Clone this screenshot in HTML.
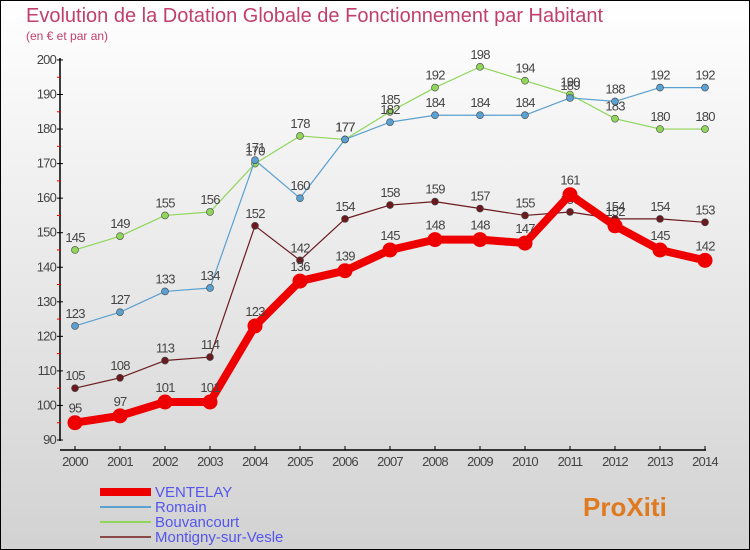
<!DOCTYPE html>
<html><head><meta charset="utf-8"><style>
body{margin:0;width:750px;height:550px;overflow:hidden}
svg{display:block;font-family:"Liberation Sans","DejaVu Sans",sans-serif}
</style></head><body>
<svg id="c" width="750" height="550">
<defs><linearGradient id="bg" x1="0" y1="0" x2="0" y2="1"><stop offset="0" stop-color="#ffffff"/><stop offset="1" stop-color="#d2d2d2"/></linearGradient></defs>
<rect x="0.5" y="0.5" width="749" height="549" fill="url(#bg)" stroke="#000"/>
<text x="26" y="22" font-size="20" fill="#c0406a">Evolution de la Dotation Globale de Fonctionnement par Habitant</text>
<text x="26" y="40" font-size="12" fill="#c0406a">(en € et par an)</text>
<g id="axes"></g><g id="series"></g><g id="legend"></g>
</svg>
<script>
const years=[2000,2001,2002,2003,2004,2005,2006,2007,2008,2009,2010,2011,2012,2013,2014];
const yTicks=[90,100,110,120,130,140,150,160,170,180,190,200];
const ventelay=[95,97,101,101,123,136,139,145,148,148,147,161,152,145,142];
const romain=[123,127,133,134,171,160,177,182,184,184,184,189,188,192,192];
const bouvancourt=[145,149,155,156,170,178,177,185,192,198,194,190,183,180,180];
const montigny=[105,108,113,114,152,142,154,158,159,157,155,156,154,154,153];
const NS="http://www.w3.org/2000/svg";
function X(i){return 75+i*45;}
function Y(v){return 440-(v-90)*3.455;}
function mk(tag,attrs,parent,txt){const e=document.createElementNS(NS,tag);for(const k in attrs)e.setAttribute(k,attrs[k]);if(txt!==undefined)e.textContent=txt;parent.appendChild(e);return e;}
const ax=document.getElementById('axes');
let e=mk('line',{x1:60,y1:58,x2:60,y2:441,stroke:'#000','stroke-width':1.5},ax);

e=mk('line',{x1:60,y1:450,x2:706,y2:450,stroke:'#000','stroke-width':1.5},ax);

yTicks.forEach((t,i)=>{
 mk('line',{x1:57,y1:Y(t),x2:63,y2:Y(t),stroke:'#000'},ax);
 if(i<yTicks.length-1)mk('line',{x1:57,y1:Y(t+5),x2:61,y2:Y(t+5),stroke:'#e00'},ax);
 const l=mk('text',{x:56,y:Y(t)+4,'font-size':13,fill:'#444','text-anchor':'end','letter-spacing':'-0.8'},ax,t);
 
});
years.forEach((y,i)=>{
 mk('line',{x1:X(i),y1:446,x2:X(i),y2:450,stroke:'#000'},ax);
 const l=mk('text',{x:X(i),y:466,'font-size':13,fill:'#444','text-anchor':'middle','letter-spacing':'-0.8'},ax,y);
 
});
const sg=document.getElementById('series');
const series=[
 {name:'montigny-sur-vesle',data:montigny,color:'#6b1a1f',w:1.2,r:3.5},
 {name:'bouvancourt',data:bouvancourt,color:'#8fd65a',w:1.2,r:3.5},
 {name:'romain',data:romain,color:'#5aa0d0',w:1.2,r:3.5},
 {name:'ventelay',data:ventelay,color:'#ee0000',w:8,r:7.5}];
series.forEach(s=>{
 const g=mk('g',{},sg);
 
 const pts=s.data.map((v,i)=>X(i)+','+Y(v)).join(' ');
 const ln=mk('polyline',{points:pts,fill:'none',stroke:s.color,'stroke-width':s.w,'stroke-linejoin':'round'},g);
 
 s.data.forEach((v,i)=>{
  const c=mk('circle',{cx:X(i),cy:Y(v),r:s.r,fill:s.color,stroke:s.w>2?'none':'#444','stroke-width':0.6},g);
  
  const t=mk('text',{x:X(i),y:Y(v)-(s.w>2?10:8),'font-size':13,fill:'#444','text-anchor':'middle','letter-spacing':'-0.8'},g,v);
  
 });
});
const lg=document.getElementById('legend');
const leg=[['VENTELAY','#ee0000',8],['Romain','#5aa0d0',2],['Bouvancourt','#8fd65a',2],['Montigny-sur-Vesle','#8a4a4a',2]];
leg.forEach((l,i)=>{
 const y=492+i*15;
 const g=mk('g',{},lg);
 
 mk('line',{x1:100,y1:y,x2:151,y2:y,stroke:l[1],'stroke-width':l[2]},g);
 mk('text',{x:155,y:y+5,'font-size':15,fill:'#5555ee'},g,l[0]);
});
const p=mk('text',{x:583,y:516,'font-size':26,'font-weight':'bold',fill:'#e07a20'},lg,'ProXiti');

</script>
</body></html>
